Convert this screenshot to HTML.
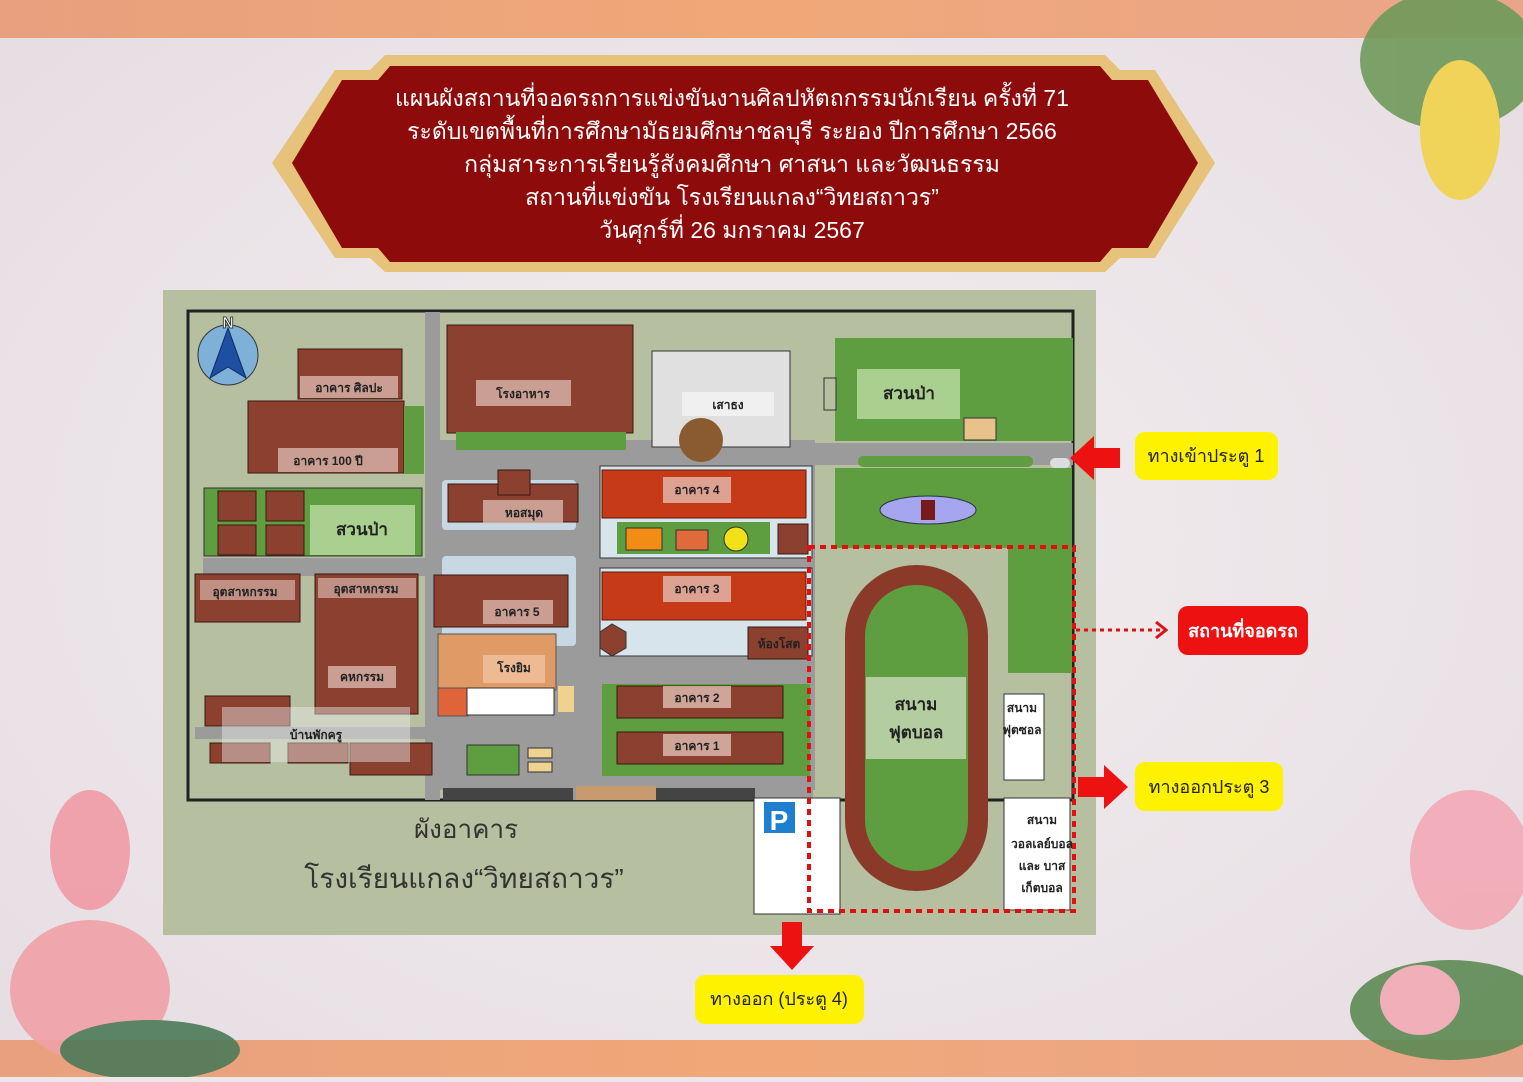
<!DOCTYPE html>
<html><head><meta charset="utf-8"><style>
html,body{margin:0;padding:0;}
body{width:1523px;height:1077px;overflow:hidden;background:#ece7ea;font-family:"Liberation Sans",sans-serif;}
svg text{font-family:"Liberation Sans","DejaVu Sans",sans-serif;}
</style></head><body>
<svg width="1523" height="1077" viewBox="0 0 1523 1077" xmlns="http://www.w3.org/2000/svg">
<defs>
<linearGradient id="band" x1="0" x2="1"><stop offset="0" stop-color="#e8a07e"/><stop offset="0.5" stop-color="#f0a878"/><stop offset="1" stop-color="#e9a58a"/></linearGradient>
<radialGradient id="bg" cx="0.5" cy="0.5" r="0.7"><stop offset="0" stop-color="#f2eef0"/><stop offset="1" stop-color="#e6dde2"/></radialGradient>
</defs>
<rect width="1523" height="1077" fill="url(#bg)"/>
<rect width="1523" height="38" fill="url(#band)"/>
<rect y="1040" width="1523" height="37" fill="url(#band)"/>
<!-- lotus decorations -->
<g opacity="0.9">
<ellipse cx="1450" cy="60" rx="90" ry="70" fill="#6f9a5a"/>
<ellipse cx="1460" cy="130" rx="40" ry="70" fill="#f1d24a"/>
<ellipse cx="1470" cy="860" rx="60" ry="70" fill="#f3a9b5"/>
<ellipse cx="1450" cy="1010" rx="100" ry="50" fill="#5d8a54"/>
<ellipse cx="1420" cy="1000" rx="40" ry="35" fill="#f2aab5"/>
<ellipse cx="90" cy="850" rx="40" ry="60" fill="#f09aa5"/>
<ellipse cx="90" cy="990" rx="80" ry="70" fill="#f0a0a8"/>
<ellipse cx="150" cy="1050" rx="90" ry="30" fill="#4c7a58"/>
</g>
<!-- title banner -->
<polygon points="385,55 1105,55 1120,70 1155,70 1215,163 1155,258 1120,258 1105,272 385,272 370,258 335,258 272,163 335,70 370,70" fill="#e6c27a"/>
<polygon points="390,66 1100,66 1112,80 1148,80 1198,163 1148,248 1112,248 1100,262 390,262 378,248 342,248 292,163 342,80 378,80" fill="#8e0b0b"/>
<g fill="#fff" font-size="23" text-anchor="middle">
<text x="732" y="106">แผนผังสถานที่จอดรถการแข่งขันงานศิลปหัตถกรรมนักเรียน ครั้งที่ 71</text>
<text x="732" y="139">ระดับเขตพื้นที่การศึกษามัธยมศึกษาชลบุรี ระยอง ปีการศึกษา 2566</text>
<text x="732" y="172">กลุ่มสาระการเรียนรู้สังคมศึกษา ศาสนา และวัฒนธรรม</text>
<text x="732" y="205">สถานที่แข่งขัน โรงเรียนแกลง“วิทยสถาวร”</text>
<text x="732" y="238">วันศุกร์ที่ 26 มกราคม 2567</text>
</g>
<!-- map -->
<rect x="163" y="290" width="933" height="645" fill="#b6bf9f"/>
<rect x="188" y="311" width="885" height="489" fill="none" stroke="#222" stroke-width="3"/>
<!-- roads -->
<g fill="#9b9b9b">
<rect x="425" y="312" width="15" height="488"/>
<rect x="425" y="443" width="648" height="22"/>
<rect x="425" y="440" width="390" height="350"/>
<rect x="195" y="727" width="380" height="12"/>
<rect x="203" y="558" width="222" height="18"/>
</g>
<!-- compass -->
<circle cx="228" cy="355" r="30" fill="#7eb0d8" stroke="#333"/>
<polygon points="228,328 210,378 228,367 246,378" fill="#1f4fa0" stroke="#0d2b66"/>
<text x="228" y="328" font-size="16" font-weight="bold" fill="#fff" stroke="#222" stroke-width="0.8" text-anchor="middle">N</text>
<!-- left column -->
<g fill="#8b4030" stroke="#3a1a10">
<rect x="298" y="349" width="104" height="50"/>
<rect x="248" y="401" width="156" height="72"/>
<rect x="218" y="490" width="38" height="30"/><rect x="266" y="490" width="38" height="30"/>
<rect x="218" y="524" width="38" height="30"/><rect x="266" y="524" width="38" height="30"/>
<rect x="195" y="574" width="105" height="48"/>
<rect x="315" y="574" width="103" height="140"/>
<rect x="205" y="696" width="85" height="30"/>
<rect x="210" y="743" width="60" height="20"/><rect x="288" y="743" width="60" height="20"/>
<rect x="350" y="743" width="82" height="32"/>
</g>
<rect x="404" y="406" width="20" height="68" fill="#5e9e40"/>
<rect x="204" y="488" width="218" height="68" fill="#5e9e40" stroke="#333"/>
<g fill="#8b4030" stroke="#3a1a10">
<rect x="218" y="491" width="38" height="30"/><rect x="266" y="491" width="38" height="30"/>
<rect x="218" y="525" width="38" height="30"/><rect x="266" y="525" width="38" height="30"/>
</g>
<rect x="310" y="505" width="105" height="50" fill="#a9d08e"/>
<rect x="222" y="707" width="188" height="55" fill="#eee" opacity="0.45"/>
<!-- center buildings -->
<rect x="447" y="325" width="186" height="108" fill="#8b4030" stroke="#3a1a10"/>
<rect x="456" y="432" width="170" height="18" fill="#5e9e40"/>
<rect x="652" y="351" width="138" height="96" fill="#e0e0e0" stroke="#333"/>
<circle cx="701" cy="440" r="22" fill="#8a5a30"/>
<rect x="442" y="480" width="134" height="50" fill="#c7d7e3" rx="4"/>
<rect x="448" y="484" width="130" height="38" fill="#8b4030" stroke="#3a1a10"/>
<rect x="498" y="470" width="32" height="25" fill="#8b4030" stroke="#3a1a10"/>
<rect x="442" y="556" width="134" height="90" fill="#c7d7e3" rx="4"/>
<rect x="434" y="575" width="134" height="52" fill="#8b4030" stroke="#3a1a10"/>
<rect x="438" y="634" width="118" height="56" fill="#e09a65" stroke="#555"/>
<rect x="438" y="688" width="30" height="28" fill="#e0643a" stroke="#555"/>
<rect x="467" y="688" width="87" height="27" fill="#fff" stroke="#333"/>
<rect x="558" y="686" width="16" height="26" fill="#eed28f"/>
<rect x="467" y="745" width="52" height="30" fill="#5e9e40" stroke="#333"/>
<rect x="528" y="748" width="24" height="10" fill="#eed28f" stroke="#333"/>
<rect x="528" y="762" width="24" height="10" fill="#eed28f" stroke="#333"/>
<rect x="443" y="778" width="370" height="22" fill="#9b9b9b"/>
<rect x="443" y="788" width="130" height="12" fill="#444"/>
<rect x="655" y="788" width="100" height="12" fill="#444"/>
<rect x="576" y="786" width="80" height="14" fill="#c79a70"/>
<!-- building 4 / 3 block -->
<rect x="600" y="466" width="212" height="92" fill="#d8e4ec" stroke="#333"/>
<rect x="602" y="470" width="204" height="48" fill="#c63a18" stroke="#5a1a0a"/>
<rect x="617" y="522" width="153" height="32" fill="#5e9e40"/>
<rect x="626" y="528" width="36" height="22" fill="#f28c14" stroke="#333"/>
<rect x="676" y="530" width="32" height="20" fill="#e06a3a" stroke="#333"/>
<circle cx="736" cy="539" r="12" fill="#f3e118" stroke="#333"/>
<rect x="778" y="524" width="30" height="30" fill="#8b4030" stroke="#3a1a10"/>
<rect x="600" y="568" width="212" height="88" fill="#d8e4ec" stroke="#333"/>
<rect x="602" y="572" width="204" height="48" fill="#c63a18" stroke="#5a1a0a"/>
<polygon points="600,632 612,624 626,632 626,648 612,656 600,648" fill="#8b4030" stroke="#333"/>
<rect x="748" y="627" width="60" height="32" fill="#8b4030" stroke="#3a1a10"/>
<rect x="602" y="684" width="208" height="92" fill="#5e9e40"/>
<rect x="617" y="686" width="166" height="32" fill="#8b4030" stroke="#3a1a10"/>
<rect x="617" y="732" width="166" height="32" fill="#8b4030" stroke="#3a1a10"/>
<!-- right side -->
<rect x="835" y="338" width="238" height="103" fill="#5e9e40"/>
<rect x="857" y="369" width="103" height="50" fill="#a9d08e"/>
<rect x="964" y="418" width="32" height="22" fill="#e8c28a" stroke="#333"/>
<rect x="824" y="378" width="12" height="32" fill="#b6bf9f" stroke="#333"/>
<rect x="858" y="456" width="175" height="11" fill="#5e9e40" rx="5"/>
<rect x="835" y="468" width="175" height="80" fill="#5e9e40"/>
<ellipse cx="928" cy="510" rx="48" ry="14" fill="#a4a7f0" stroke="#333"/>
<rect x="921" y="500" width="14" height="20" fill="#7a1a1a"/>
<rect x="1008" y="468" width="64" height="205" fill="#5e9e40"/>
<rect x="1050" y="458" width="20" height="10" fill="#ddd" rx="5"/>
<!-- track -->
<rect x="845" y="565" width="143" height="326" rx="71" fill="#8b3a2a"/>
<rect x="865" y="585" width="103" height="286" rx="51" fill="#5e9e40"/>
<rect x="866" y="677" width="100" height="82" fill="#c9d8b8" opacity="0.8"/>
<text x="916" y="710" font-size="17" font-weight="bold" text-anchor="middle" fill="#222">สนาม</text>
<text x="916" y="738" font-size="17" font-weight="bold" text-anchor="middle" fill="#222">ฟุตบอล</text>
<rect x="1004" y="694" width="40" height="86" fill="#fff" stroke="#333"/>
<rect x="1004" y="798" width="66" height="112" fill="#fff" stroke="#333"/>
<rect x="754" y="798" width="86" height="116" fill="#fff" stroke="#333"/>
<rect x="754" y="798" width="86" height="116" fill="none" stroke="#333"/>
<rect x="763" y="801" width="33" height="33" fill="#1e7fd1" stroke="#fff" stroke-width="2"/>
<text x="779" y="830" font-size="28" font-weight="bold" fill="#fff" text-anchor="middle">P</text>
<!-- labels -->
<g font-size="12" font-weight="bold" fill="#222" text-anchor="middle">
<rect x="300" y="376" width="98" height="22" fill="#e6c6bc" opacity="0.7"/><text x="349" y="392">อาคาร ศิลปะ</text>
<rect x="278" y="448" width="120" height="24" fill="#e6c6bc" opacity="0.7"/><text x="328" y="465">อาคาร 100 ปี</text>
<text x="362" y="535" font-size="17">สวนป่า</text>
<rect x="200" y="580" width="95" height="20" fill="#e6c6bc" opacity="0.6"/><text x="245" y="596">อุตสาหกรรม</text>
<rect x="318" y="578" width="98" height="20" fill="#e6c6bc" opacity="0.6"/><text x="366" y="593">อุตสาหกรรม</text>
<rect x="328" y="666" width="68" height="22" fill="#e6c6bc" opacity="0.7"/><text x="362" y="681">คหกรรม</text>
<text x="316" y="739">บ้านพักครู</text>
<rect x="476" y="380" width="95" height="26" fill="#e6c6bc" opacity="0.7"/><text x="523" y="398">โรงอาหาร</text>
<rect x="682" y="392" width="92" height="24" fill="#f0f0f0"/><text x="728" y="409">เสาธง</text>
<rect x="483" y="500" width="80" height="24" fill="#e6c6bc" opacity="0.7"/><text x="524" y="517">หอสมุด</text>
<rect x="483" y="600" width="70" height="24" fill="#e6c6bc" opacity="0.7"/><text x="517" y="616">อาคาร 5</text>
<rect x="483" y="655" width="62" height="28" fill="#f2c8a8" opacity="0.7"/><text x="514" y="672">โรงยิม</text>
<rect x="663" y="477" width="68" height="26" fill="#e6c6bc" opacity="0.75"/><text x="697" y="494">อาคาร 4</text>
<rect x="663" y="576" width="68" height="26" fill="#e6c6bc" opacity="0.75"/><text x="697" y="593">อาคาร 3</text>
<rect x="663" y="686" width="68" height="22" fill="#e6c6bc" opacity="0.75"/><text x="697" y="702">อาคาร 2</text>
<rect x="663" y="734" width="68" height="22" fill="#e6c6bc" opacity="0.75"/><text x="697" y="750">อาคาร 1</text>
<text x="779" y="648">ห้องโสต</text>
<text x="909" y="399" font-size="17">สวนป่า</text>
<text x="1022" y="712">สนาม</text><text x="1022" y="734">ฟุตซอล</text>
<text x="1042" y="824">สนาม</text><text x="1042" y="848">วอลเลย์บอล</text><text x="1042" y="870">และ บาส</text><text x="1042" y="892">เก็ตบอล</text>
</g>
<text x="466" y="838" font-size="26" fill="#333" text-anchor="middle">ผังอาคาร</text>
<text x="464" y="888" font-size="28" fill="#333" text-anchor="middle">โรงเรียนแกลง“วิทยสถาวร”</text>
<!-- parking dotted -->
<rect x="809" y="547" width="265" height="364" fill="none" stroke="#e01010" stroke-width="4" stroke-dasharray="6,5"/>
<line x1="1076" y1="630" x2="1160" y2="630" stroke="#e01010" stroke-width="3" stroke-dasharray="4,4"/>
<polyline points="1156,622 1166,630 1156,638" fill="none" stroke="#e01010" stroke-width="3"/>
<!-- arrows -->
<polygon points="1070,458 1094,436 1094,448 1120,448 1120,468 1094,468 1094,480" fill="#ee1111"/>
<polygon points="1128,787 1104,765 1104,777 1078,777 1078,797 1104,797 1104,809" fill="#ee1111"/>
<polygon points="792,970 770,946 782,946 782,922 802,922 802,946 814,946" fill="#ee1111"/>
<!-- callouts -->
<rect x="1135" y="432" width="143" height="48" rx="10" fill="#fff200"/>
<text x="1206" y="462" font-size="18" text-anchor="middle" fill="#222">ทางเข้าประตู 1</text>
<rect x="1178" y="606" width="130" height="49" rx="10" fill="#ee1111"/>
<text x="1243" y="637" font-size="18" font-weight="bold" text-anchor="middle" fill="#fff">สถานที่จอดรถ</text>
<rect x="1135" y="762" width="148" height="49" rx="10" fill="#fff200"/>
<text x="1209" y="793" font-size="18" text-anchor="middle" fill="#222">ทางออกประตู 3</text>
<rect x="695" y="975" width="169" height="49" rx="10" fill="#fff200"/>
<text x="779" y="1005" font-size="18" text-anchor="middle" fill="#222">ทางออก (ประตู 4)</text>
</svg>
</body></html>
